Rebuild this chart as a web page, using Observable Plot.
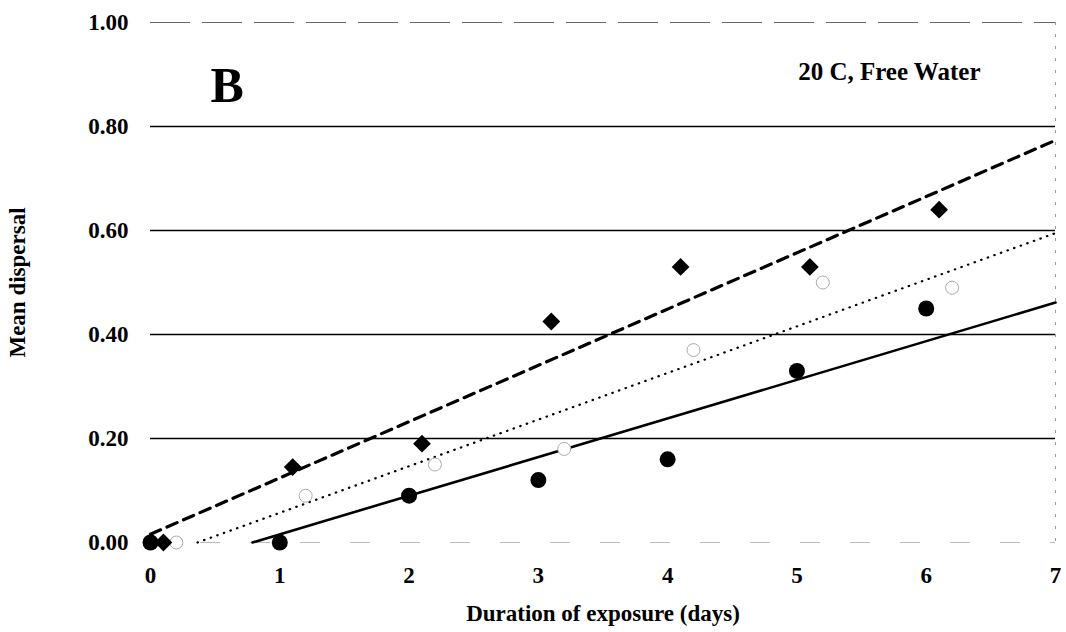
<!DOCTYPE html>
<html>
<head>
<meta charset="utf-8">
<script src="https://cdn.jsdelivr.net/npm/d3@7"></script>
<script src="https://cdn.jsdelivr.net/npm/@observablehq/plot@0.6"></script>
<style>
  html, body { margin: 0; padding: 0; background: #fff; }
  #chart svg { display: block; }
</style>
</head>
<body>
<div id="chart"></div>
<script>
// Data (x offsets mirror the original plot's staggering)
const daysFilled = [0, 1, 2, 3, 4, 5, 6];
const valuesFilled = [0.00, 0.00, 0.09, 0.12, 0.16, 0.33, 0.45];

const daysDiamond = [0.1, 1.1, 2.1, 3.1, 4.1, 5.1, 6.1];
const valuesDiamond = [0.00, 0.145, 0.19, 0.425, 0.53, 0.53, 0.64];

const daysOpen = [0.2, 1.2, 2.2, 3.2, 4.2, 5.2, 6.2];
const valuesOpen = [0.00, 0.09, 0.15, 0.18, 0.37, 0.50, 0.49];

const xTicks = [0, 1, 2, 3, 4, 5, 6, 7];
const yTicks = [0, 0.2, 0.4, 0.6, 0.8, 1.0];
const gridValues = [0.2, 0.4, 0.6, 0.8];
const topGrid = [1.0];
const xMax = 7;

const toRows = (xs, ys) => xs.map((x, i) => ({x, y: ys[i]}));
const filled = toRows(daysFilled, valuesFilled);
const diamonds = toRows(daysDiamond, valuesDiamond);
const opens = toRows(daysOpen, valuesOpen);

// least-squares trendline, clipped to y >= 0, extended to xMax
function trend(rows) {
  const mx = d3.mean(rows, d => d.x), my = d3.mean(rows, d => d.y);
  const sxy = d3.sum(rows, d => (d.x - mx) * (d.y - my));
  const sxx = d3.sum(rows, d => (d.x - mx) ** 2);
  const b = sxy / sxx, a = my - b * mx;
  const root = -a / b;
  const x0 = Math.max(0, root);
  return [{x: x0, y: a + b * x0}, {x: xMax, y: a + b * xMax}];
}

const font = "'Liberation Serif', 'Times New Roman', serif";

const chart = Plot.plot({
  width: 1066,
  height: 632,
  marginLeft: 150,
  marginRight: 11,
  marginTop: 22,
  marginBottom: 90,
  style: {fontFamily: font, fontWeight: "bold", fontSize: "24px", color: "#000", background: "#fff"},
  x: {domain: [0, 7]},
  y: {domain: [0, 1]},
  marks: [
    Plot.axisX({ticks: xTicks, tickSize: 0, tickPadding: 24, tickFormat: d3.format("d"), fontSize: 23,
      label: "Duration of exposure (days)", labelAnchor: "center", labelArrow: "none", labelOffset: 78}),
    Plot.axisY({ticks: yTicks, tickSize: 0, tickPadding: 22, tickFormat: d => d.toFixed(2), fontSize: 23,
      label: "Mean dispersal", labelAnchor: "center", labelArrow: "none", labelOffset: 142}),
    Plot.ruleY(gridValues, {stroke: "#000", strokeWidth: 1.3}),
    Plot.ruleY(topGrid, {stroke: "#666", strokeWidth: 1, strokeDasharray: "40,12"}),
    Plot.ruleX([xMax], {stroke: "#999", strokeWidth: 1, strokeDasharray: "3,9"}),
    Plot.ruleY([0], {stroke: "#bbb", strokeWidth: 1, strokeDasharray: "20,30"}),
    Plot.line(trend(diamonds), {x: "x", y: "y", stroke: "#000", strokeWidth: 3.2, strokeDasharray: "11,7"}),
    Plot.line(trend(opens), {x: "x", y: "y", stroke: "#000", strokeWidth: 2.2, strokeDasharray: "0.5,6.5", strokeLinecap: "round"}),
    Plot.line(trend(filled), {x: "x", y: "y", stroke: "#000", strokeWidth: 2.6}),
    Plot.dot(opens, {x: "x", y: "y", r: 6.5, stroke: "#aaa", strokeWidth: 1, fill: "#fff"}),
    Plot.dot(diamonds, {x: "x", y: "y", symbol: "diamond2", r: 8, fill: "#000", stroke: "none"}),
    Plot.dot(filled, {x: "x", y: "y", r: 8, fill: "#000", stroke: "none"}),
    Plot.text(["B"], {frameAnchor: "top-left", dx: 60, dy: 44, lineAnchor: "top", textAnchor: "start",
      fontSize: 50, fontWeight: "bold", fill: "#000"}),
    Plot.text(["20 C, Free Water"], {frameAnchor: "top-right", dx: -75, dy: 40, lineAnchor: "top", textAnchor: "end",
      fontSize: 25, fontWeight: "bold", fill: "#000"})
  ]
});

document.getElementById("chart").appendChild(chart);
</script>
</body>
</html>
